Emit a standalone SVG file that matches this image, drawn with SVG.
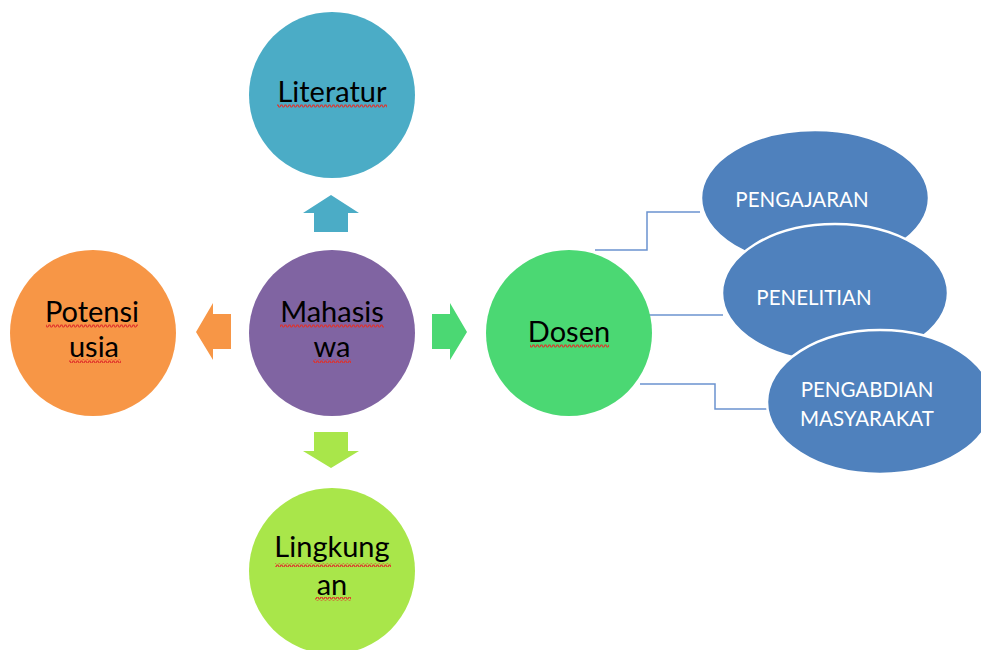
<svg xmlns="http://www.w3.org/2000/svg" width="981" height="650" viewBox="0 0 981 650">
<defs>
<pattern id="wave" width="4" height="4" patternUnits="userSpaceOnUse">
<path d="M0,3 L1,1 L2,1 L3,3 L4,3" fill="none" stroke="#e0302a" stroke-width="1.1"/>
</pattern>
<style>
.lbl{font-family:Lato,"Open Sans","Liberation Sans",sans-serif;font-size:29px;fill:#000;text-anchor:middle}
.el{fill:#4F81BD;stroke:#fff;stroke-width:2.5}
.elt{font-family:Lato,"Open Sans","Liberation Sans",sans-serif;font-size:20.5px;fill:#fff;text-anchor:middle}
.con{fill:none;stroke:#6b93cf;stroke-width:1.5}
.wv{fill:url(#wave)}
</style>
</defs>
<rect width="981" height="650" fill="#fff"/>
<g id="connectors">
<polygon points="331,195 359,213 348,213 348,232 314,232 314,213 303,213" fill="#4BACC6"/>
<polygon points="196,332 213,303 213,314 231,314 231,349 213,349 213,360" fill="#F79646"/>
<polygon points="467,332 450,303 450,314 432,314 432,349 450,349 450,360" fill="#4BD873"/>
<polygon points="331,468 359,451 348,451 348,432 314,432 314,451 303,451" fill="#A9E64A"/>
<polyline class="con" points="595,250 647,250 647,212 700,212"/>
<polyline class="con" points="648,315 723,315"/>
<polyline class="con" points="640,384 715,384 715,409 768,409"/>
</g>
<g id="literatur">
<circle cx="332" cy="95" r="83" fill="#4BACC6"/>
<text class="lbl" x="332" y="102">Literatur</text>
<rect class="wv" x="277" y="104" width="110" height="4"/>
</g>
<g id="potensi">
<circle cx="93" cy="333" r="83" fill="#F79646"/>
<text class="lbl" x="92" y="322">Potensi</text>
<text class="lbl" x="94" y="357">usia</text>
<rect class="wv" x="46" y="324" width="92" height="4"/>
<rect class="wv" x="69" y="359" width="52" height="4"/>
</g>
<g id="mahasiswa">
<circle cx="332" cy="333" r="83" fill="#8064A2"/>
<text class="lbl" x="332" y="322">Mahasis</text>
<text class="lbl" x="332" y="357">wa</text>
<rect class="wv" x="280" y="324" width="104" height="4"/>
<rect class="wv" x="313" y="359" width="38" height="4"/>
</g>
<g id="dosen">
<circle cx="569" cy="333" r="83" fill="#4BD873"/>
<text class="lbl" x="569" y="342">Dosen</text>
<rect class="wv" x="530" y="344" width="79" height="4"/>
</g>
<g id="lingkungan">
<circle cx="332" cy="571" r="83" fill="#A9E64A"/>
<text class="lbl" x="332" y="557">Lingkung</text>
<text class="lbl" x="332" y="595">an</text>
<rect class="wv" x="275" y="563" width="116" height="4"/>
<rect class="wv" x="315" y="597" width="36" height="4"/>
</g>
<g id="pengajaran">
<ellipse class="el" cx="815" cy="198" rx="114" ry="68"/>
<text class="elt" x="802" y="207">PENGAJARAN</text>
</g>
<g id="penelitian">
<ellipse class="el" cx="835" cy="293" rx="113" ry="69"/>
<text class="elt" x="814" y="305">PENELITIAN</text>
</g>
<g id="pengabdian">
<ellipse class="el" cx="880" cy="402" rx="113" ry="72"/>
<text class="elt" x="867" y="397">PENGABDIAN</text>
<text class="elt" x="867" y="426">MASYARAKAT</text>
</g>
</svg>
